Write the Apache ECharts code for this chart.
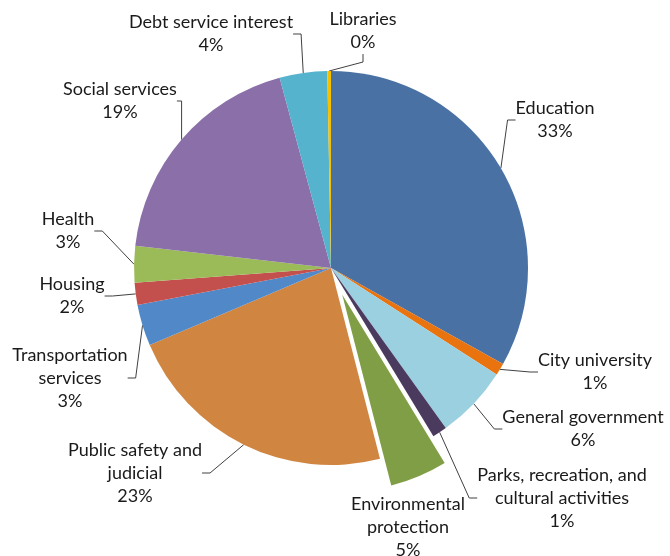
<!DOCTYPE html>
<html>
<head>
<meta charset="utf-8">
<script src="https://cdn.jsdelivr.net/npm/echarts@6/dist/echarts.min.js"></script>
<style>
  html, body { margin: 0; padding: 0; background: #fff; }
  #chart { width: 670px; height: 556px; }
</style>
</head>
<body>
<div id="chart"></div>
<script>
// Budget shares by function (percent of total), clockwise from 12 o'clock
const categories = [
  'Education', 'City university', 'General government',
  'Parks, recreation, and\ncultural activities', 'Environmental\nprotection',
  'Public safety and\njudicial', 'Transportation\nservices', 'Housing',
  'Health', 'Social services', 'Debt service interest', 'Libraries'
];
const shares = [33.1, 1.0, 6.0, 1.2, 4.7, 22.6, 3.4, 1.8, 3.0, 19.0, 3.9, 0.3];
const colors = [
  '#4A71A4', '#E9730F', '#9BD0E1', '#4A3A5E', '#809E45', '#D08541',
  '#5088C8', '#C4504E', '#9BBB59', '#8A6FA8', '#55B3CE', '#F5C000'
];
// The one slice pulled out of the pie
const explodedIndex = 4;

// Where each label block is centred (px)
const labelAnchors = [
  [555, 120], [595, 372], [583, 429], [562, 498], [408, 527], [135, 473],
  [70, 378], [72, 296], [68, 231], [120, 101], [211, 34], [363, 31]
];

const pieCenter = [331, 268];
const pieRadius = 197;
const explodeDistance = 29;

// Direction of the exploded slice: middle of its arc, clockwise from 12 o'clock
const total = shares.reduce((s, v) => s + v, 0);
const before = shares.slice(0, explodedIndex).reduce((s, v) => s + v, 0);
const midAngle = (before + shares[explodedIndex] / 2) / total * 2 * Math.PI;
const explodedCenter = [
  pieCenter[0] + Math.sin(midAngle) * explodeDistance,
  pieCenter[1] - Math.cos(midAngle) * explodeDistance
];

const labelStyle = {
  show: true,
  position: 'outside',
  fontFamily: 'Lato, "Liberation Sans", sans-serif',
  fontSize: 18,
  lineHeight: 23,
  color: '#1a1a1a',
  align: 'center',
  formatter: p => p.name + '\n' + Math.round(p.percent) + '%'
};
const lineStyle = {
  show: true,
  length: 10,
  length2: 8,
  lineStyle: { color: '#404040', width: 1 }
};
const placeLabel = p => {
  const a = labelAnchors[p.dataIndex];
  return { x: a[0], y: a[1], align: 'center', verticalAlign: 'middle' };
};

// Builds one pie layer; `visible` decides which slices are painted in it
function pieLayer(center, visible) {
  return {
    type: 'pie',
    center: center,
    radius: [0, pieRadius],
    startAngle: 90,
    clockwise: true,
    silent: true,
    avoidLabelOverlap: false,
    itemStyle: { borderWidth: 0 },
    label: labelStyle,
    labelLine: lineStyle,
    labelLayout: placeLabel,
    data: categories.map((name, i) => {
      const on = visible(i);
      return {
        name: name,
        value: shares[i],
        itemStyle: { color: on ? colors[i] : 'rgba(0,0,0,0)' },
        label: { show: on },
        labelLine: { show: on && i !== explodedIndex }
      };
    })
  };
}

const chart = echarts.init(document.getElementById('chart'), null, { renderer: 'canvas' });

chart.setOption({
  animation: false,
  series: [
    pieLayer(pieCenter, i => i !== explodedIndex),
    pieLayer(explodedCenter, i => i === explodedIndex)
  ]
});
</script>
</body>
</html>
